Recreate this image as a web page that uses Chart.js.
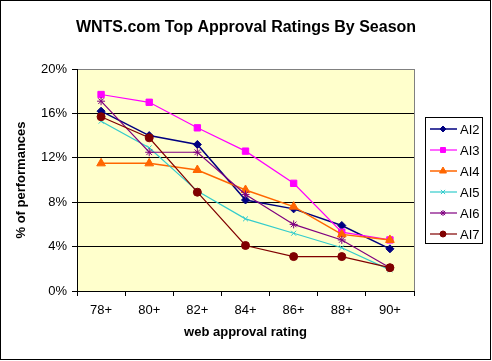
<!DOCTYPE html>
<html>
<head>
<meta charset="utf-8">
<script src="https://cdn.jsdelivr.net/npm/chart.js@4/dist/chart.umd.min.js"></script>
<style>
html,body{margin:0;padding:0;background:#fff;}
canvas{display:block;}
</style>
</head>
<body>
<canvas id="c" width="492" height="361"></canvas>
<script>
const categories = ["78+", "80+", "82+", "84+", "86+", "88+", "90+"];
const yTicks = [0, 4, 8, 12, 16, 20];
const seriesNames = ["AI2", "AI3", "AI4", "AI5", "AI6", "AI7"];
const ai2 = [16.2, 14.0, 13.2, 8.2, 7.4, 5.9, 3.8];
const ai3 = [17.7, 17.0, 14.7, 12.6, 9.7, 5.3, 4.6];
const ai4 = [11.5, 11.5, 10.9, 9.1, 7.6, 5.1, 4.6];
const ai5 = [15.3, 12.9, 9.0, 6.5, 5.2, 3.9, 1.9];
const ai6 = [17.1, 12.5, 12.5, 8.7, 6.0, 4.6, 2.1];
const ai7 = [15.7, 13.8, 8.9, 4.1, 3.1, 3.1, 2.1];

const FONT = "'Liberation Sans', Arial, sans-serif";
const styles = [
  {color: '#000080', point: 'rectRot', r: 4, w: 1.5},
  {color: '#FF00FF', point: 'rect', r: 4.5, w: 1.2},
  {color: '#FF6600', point: 'triangle', r: 5, w: 1.5},
  {color: '#33CCCC', point: 'crossRot', r: 3.5, w: 1.2},
  {color: '#800080', point: 'star', r: 4, w: 1.2},
  {color: '#800000', point: 'circle', r: 4, w: 1.2}
];
const values = [ai2, ai3, ai4, ai5, ai6, ai7];

const datasets = values.map((v, i) => ({
  label: seriesNames[i],
  data: v,
  borderColor: styles[i].color,
  backgroundColor: styles[i].color,
  pointStyle: styles[i].point,
  pointRadius: styles[i].r,
  pointBorderWidth: 1,
  pointBorderColor: styles[i].color,
  pointBackgroundColor: styles[i].color,
  borderWidth: styles[i].w,
  tension: 0,
  fill: false,
  order: 6 - i
}));

const framePlugin = {
  id: 'frame',
  beforeDraw(chart) {
    const {ctx, chartArea: a} = chart;
    ctx.save();
    ctx.fillStyle = '#fff';
    ctx.fillRect(0, 0, chart.width, chart.height);
    ctx.fillStyle = '#FFFFCC';
    ctx.fillRect(a.left, a.top, a.right - a.left, a.bottom - a.top);
    ctx.restore();
  },
  afterDraw(chart) {
    const {ctx, chartArea: a} = chart;
    ctx.save();
    ctx.strokeStyle = '#808080';
    ctx.lineWidth = 1;
    ctx.beginPath();
    ctx.moveTo(Math.round(a.right) + 0.5, a.top);
    ctx.lineTo(Math.round(a.right) + 0.5, a.bottom);
    ctx.stroke();
    ctx.strokeStyle = '#000';
    ctx.strokeRect(0.5, 0.5, 490, 359);
    ctx.fillStyle = '#000';
    ctx.font = 'bold 16px ' + FONT;
    ctx.textAlign = 'center';
    ctx.textBaseline = 'alphabetic';
    ctx.fillText('WNTS.com Top Approval Ratings By Season', 246, 32);
    const lx = 425.5, ly = 117.5, lw = 57, lh = 126;
    ctx.strokeStyle = '#000';
    ctx.strokeRect(lx, ly, lw, lh);
    ctx.font = '13px ' + FONT;
    ctx.textAlign = 'left';
    ctx.textBaseline = 'middle';
    seriesNames.forEach((name, i) => {
      const y = 129 + i * 21;
      const s = styles[i];
      ctx.strokeStyle = s.color;
      ctx.lineWidth = s.w;
      ctx.beginPath();
      ctx.moveTo(430, y);
      ctx.lineTo(457, y);
      ctx.stroke();
      ctx.fillStyle = s.color;
      ctx.lineWidth = 1;
      Chart.helpers.drawPoint(ctx, {pointStyle: s.point, radius: Math.max(3, s.r - 1), borderWidth: 1, rotation: 0}, 443, y);
      ctx.fillStyle = '#000';
      ctx.fillText(name, 460, y + 1);
    });
    ctx.restore();
  }
};

new Chart(document.getElementById('c'), {
  type: 'line',
  data: {labels: categories, datasets: datasets},
  options: {
    responsive: false,
    animation: false,
    devicePixelRatio: 1,
    layout: {padding: {top: 69, right: 78, left: 0, bottom: 0}},
    plugins: {legend: {display: false}, tooltip: {enabled: false}, title: {display: false}},
    scales: {
      x: {
        offset: true,
        grid: {offset: true, drawOnChartArea: false, drawTicks: true, tickLength: 5, tickColor: '#000', color: '#000'},
        border: {color: '#000', width: 1},
        ticks: {color: '#000', font: {family: FONT, size: 13}, padding: 7, maxRotation: 0},
        title: {display: true, text: 'web approval rating', color: '#000', font: {family: FONT, size: 13, weight: 'bold'}, padding: {top: 0, bottom: 21}},
        afterFit(s) { s.height = 70; }
      },
      y: {
        min: 0, max: 20,
        afterBuildTicks(s) { s.ticks = yTicks.map(v => ({value: v})); },
        grid: {
          color: (c) => (c.tick && c.tick.value === 20) ? '#808080' : '#000',
          tickColor: '#000', tickLength: 5, lineWidth: 1
        },
        border: {color: '#000', width: 1},
        ticks: {color: '#000', font: {family: FONT, size: 13}, padding: 5, callback: (v) => v + '%'},
        title: {display: true, text: '% of performances', color: '#000', font: {family: FONT, size: 13, weight: 'bold'}, padding: {top: 14, bottom: 0}},
        afterFit(s) { s.width = 77; }
      }
    }
  },
  plugins: [framePlugin]
});
</script>
</body>
</html>
